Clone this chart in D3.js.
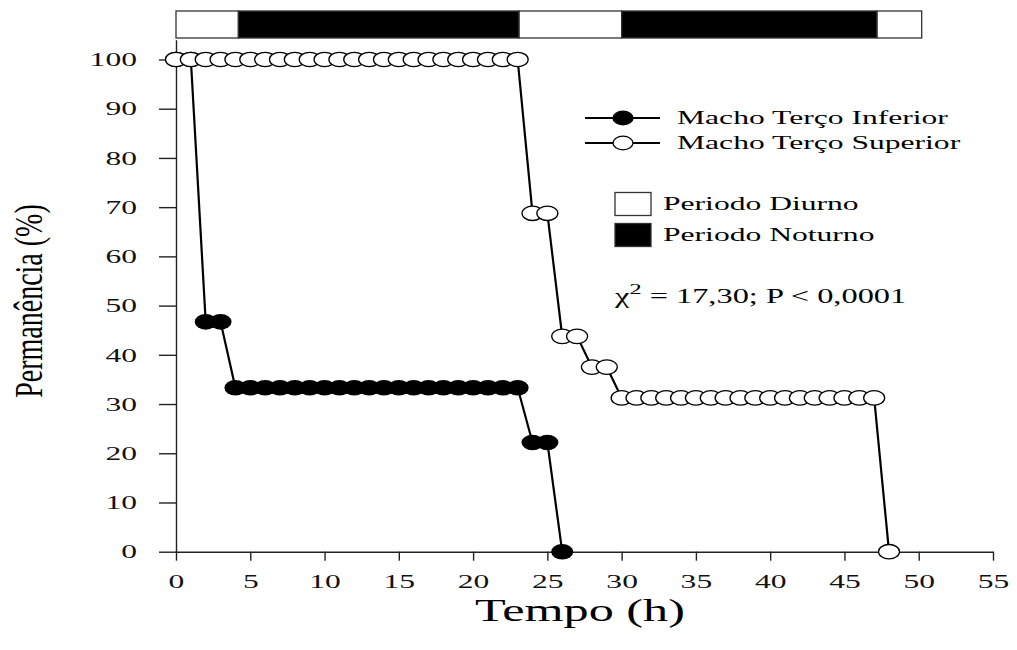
<!DOCTYPE html>
<html>
<head>
<meta charset="utf-8">
<script src="https://cdn.jsdelivr.net/npm/d3@7"></script>
<style>
  body { margin: 0; background: #fff; }
  svg { display: block; font-family: "Liberation Serif", "DejaVu Serif", serif; }
  .axis path, .axis line { stroke: #222; stroke-width: 1.4px; }
  .axis text { fill: #111; font-size: 19.5px; font-family: "Liberation Serif", "DejaVu Serif", serif; }
</style>
</head>
<body>
<div id="chart"></div>
<script>
  // hours and permanence (%)
  var infHours = [0, 1, 2, 3, 4, 5, 6, 7, 8, 9, 10, 11, 12, 13, 14, 15, 16, 17, 18, 19, 20, 21, 22, 23, 24, 25, 26];
  var infValues = [100, 100, 46.7, 46.7, 33.3, 33.3, 33.3, 33.3, 33.3, 33.3, 33.3, 33.3, 33.3, 33.3, 33.3,
                   33.3, 33.3, 33.3, 33.3, 33.3, 33.3, 33.3, 33.3, 33.3, 22.2, 22.2, 0];

  var supHours = [0, 1, 2, 3, 4, 5, 6, 7, 8, 9, 10, 11, 12, 13, 14, 15, 16, 17, 18, 19, 20, 21, 22, 23,
                  24, 25, 26, 27, 28, 29, 30, 31, 32, 33, 34, 35, 36, 37, 38, 39, 40, 41, 42, 43, 44, 45, 46, 47, 48];
  var supValues = [100, 100, 100, 100, 100, 100, 100, 100, 100, 100, 100, 100, 100, 100, 100, 100, 100, 100, 100, 100, 100, 100, 100, 100,
                   68.75, 68.75, 43.75, 43.75, 37.5, 37.5, 31.25, 31.25, 31.25, 31.25, 31.25, 31.25, 31.25, 31.25, 31.25,
                   31.25, 31.25, 31.25, 31.25, 31.25, 31.25, 31.25, 31.25, 31.25, 0];

  var periodStart = [0, 4.2, 23.1, 30, 47.2];
  var periodEnd = [4.2, 23.1, 30, 47.2, 50.2];
  var periodNight = [false, true, false, true, false];

  var xTicks = [0, 5, 10, 15, 20, 25, 30, 35, 40, 45, 50, 55];
  var yTicks = [0, 10, 20, 30, 40, 50, 60, 70, 80, 90, 100];

  var seriesNames = ["Macho Terço Inferior", "Macho Terço Superior"];
  var periodNames = ["Periodo Diurno", "Periodo Noturno"];

  var outerWidth = 1017,
      outerHeight = 650,
      SX = 1.62; // the original picture is stretched sideways

  var svg = d3.select("#chart").append("svg")
      .attr("width", outerWidth)
      .attr("height", outerHeight);

  var x = d3.scaleLinear().domain([0, 55]).range([176, 993]);
  var y = d3.scaleLinear().domain([0, 104]).range([551.7, 39.8]);

  function stretch(sel, s) {
    sel.each(function() {
      var t = d3.select(this);
      var tx = +t.attr("x") || 0, ty = +t.attr("y") || 0;
      t.attr("x", 0).attr("y", 0)
        .attr("transform", "translate(" + tx + "," + ty + ") scale(" + s + ",1)");
    });
  }

  // day / night bar
  var bar = svg.append("g");
  bar.selectAll("rect")
      .data(periodStart)
    .enter().append("rect")
      .attr("x", function(d) { return x(d); })
      .attr("y", 11)
      .attr("width", function(d, i) { return x(periodEnd[i]) - x(d); })
      .attr("height", 27)
      .attr("fill", function(d, i) { return periodNight[i] ? "#000" : "#fff"; })
      .attr("stroke", "#333")
      .attr("stroke-width", 1.3);

  // axes
  var xAxis = svg.append("g")
      .attr("class", "axis")
      .attr("transform", "translate(0," + y(0) + ")")
      .call(d3.axisBottom(x).tickValues(xTicks).tickSize(9).tickSizeOuter(0).tickPadding(13));
  stretch(xAxis.selectAll("text"), SX);

  var yAxis = svg.append("g")
      .attr("class", "axis")
      .attr("transform", "translate(" + x(0) + ",0)")
      .call(d3.axisLeft(y).tickValues(yTicks).tickSize(17).tickSizeOuter(0).tickPadding(22));
  stretch(yAxis.selectAll("text"), SX);

  var line = d3.line()
      .x(function(d) { return x(d[0]); })
      .y(function(d) { return y(d[1]); });

  var infData = infHours.map(function(h, i) { return [h, infValues[i]]; });
  var supData = supHours.map(function(h, i) { return [h, supValues[i]]; });

  svg.append("path")
      .datum(infData)
      .attr("d", line)
      .attr("fill", "none")
      .attr("stroke", "#000")
      .attr("stroke-width", 2.2);

  svg.append("g").selectAll("ellipse")
      .data(infData)
    .enter().append("ellipse")
      .attr("cx", function(d) { return x(d[0]); })
      .attr("cy", function(d) { return y(d[1]); })
      .attr("rx", 11)
      .attr("ry", 7.8)
      .attr("fill", "#000");

  svg.append("path")
      .datum(supData)
      .attr("d", line)
      .attr("fill", "none")
      .attr("stroke", "#000")
      .attr("stroke-width", 2.2);

  svg.append("g").selectAll("ellipse")
      .data(supData)
    .enter().append("ellipse")
      .attr("cx", function(d) { return x(d[0]); })
      .attr("cy", function(d) { return y(d[1]); })
      .attr("rx", 10.5)
      .attr("ry", 7.2)
      .attr("fill", "#fff")
      .attr("stroke", "#000")
      .attr("stroke-width", 1.3);

  // legend
  var legend = svg.append("g");
  var rowY = [118, 143];
  seriesNames.forEach(function(name, i) {
    legend.append("line")
        .attr("x1", 585).attr("x2", 660)
        .attr("y1", rowY[i]).attr("y2", rowY[i])
        .attr("stroke", "#000").attr("stroke-width", 1.8);
    legend.append("ellipse")
        .attr("cx", 623).attr("cy", rowY[i])
        .attr("rx", 10).attr("ry", 6.8)
        .attr("fill", i == 0 ? "#000" : "#fff")
        .attr("stroke", "#000").attr("stroke-width", 1.3);
    legend.append("text")
        .attr("x", 677).attr("y", rowY[i])
        .attr("dy", "0.33em")
        .style("font-size", "19.5px")
        .text(name)
        .call(stretch, SX);
  });

  var boxY = [204, 235];
  periodNames.forEach(function(name, i) {
    legend.append("rect")
        .attr("x", 615).attr("y", boxY[i] - 11.5)
        .attr("width", 36).attr("height", 23)
        .attr("fill", i == 0 ? "#fff" : "#000")
        .attr("stroke", "#333").attr("stroke-width", 1.3);
    legend.append("text")
        .attr("x", 663).attr("y", boxY[i])
        .attr("dy", "0.33em")
        .style("font-size", "19.5px")
        .text(name)
        .call(stretch, SX);
  });

  var chi = legend.append("text")
      .attr("x", 615).attr("y", 303)
      .style("font-size", "20px");
  chi.append("tspan").text("\u03C7");
  chi.append("tspan").attr("dy", -9).style("font-size", "15px").text("2");
  chi.append("tspan").attr("dy", 9).text(" = 17,30; P < 0,0001");
  chi.call(stretch, SX);

  // axis titles
  svg.append("text")
      .attr("x", 580).attr("y", 621)
      .attr("text-anchor", "middle")
      .style("font-size", "31px")
      .text("Tempo (h)")
      .call(stretch, SX);

  svg.append("text")
      .attr("text-anchor", "middle")
      .attr("dy", "0.33em")
      .attr("transform", "translate(29,301) scale(1.4,1) rotate(-90)")
      .style("font-size", "28px")
      .text("Permanência (%)");
</script>
</body>
</html>
